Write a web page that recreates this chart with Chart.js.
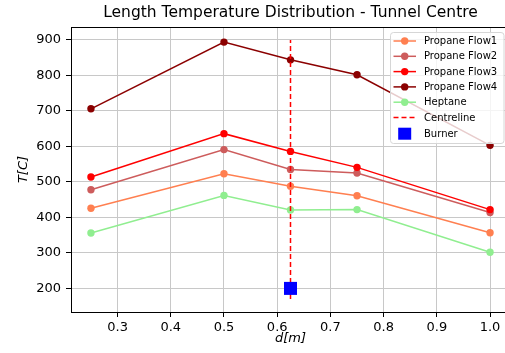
<!DOCTYPE html>
<html>
<head>
<meta charset="utf-8">
<script src="https://cdn.jsdelivr.net/npm/chart.js@4/dist/chart.umd.min.js"></script>
<style>
  html, body { margin: 0; padding: 0; background: #fff; overflow: hidden; }
  #wrap { width: 505px; height: 353px; overflow: hidden; position: relative; }
  canvas { display: block; }
</style>
</head>
<body>
<div id="wrap"><canvas id="c" width="510" height="353"></canvas></div>
<script>
// ---- data ----
const positions = [0.25, 0.5, 0.625, 0.75, 1.0];
const propaneFlow1 = [426, 523, 488, 461, 357];
const propaneFlow2 = [478, 591, 535, 525, 414];
const propaneFlow3 = [514, 636, 586, 541, 422];
const propaneFlow4 = [706, 894, 844, 802, 603];
const heptane = [356, 462, 421, 422, 302];
const centrelineX = [0.625, 0.625];
const centrelineY = [170, 900];
const burnerX = [0.625];
const burnerY = [200];
const xTicks = [0.3, 0.4, 0.5, 0.6, 0.7, 0.8, 0.9, 1.0];
const yTicks = [200, 300, 400, 500, 600, 700, 800, 900];

const FONT = "'DejaVu Sans', 'Liberation Sans', sans-serif";
Chart.defaults.font.family = FONT;
Chart.defaults.color = '#000';

const toPts = (xs, ys) => xs.map((x, i) => ({ x: x, y: ys[i] }));

const series = [
  { label: 'Propane Flow1', data: propaneFlow1, color: '#ff7f50' },
  { label: 'Propane Flow2', data: propaneFlow2, color: '#cd5c5c' },
  { label: 'Propane Flow3', data: propaneFlow3, color: '#ff0000' },
  { label: 'Propane Flow4', data: propaneFlow4, color: '#8b0000' },
  { label: 'Heptane', data: heptane, color: '#90ee90' }
];

const datasets = series.map((s) => ({
  label: s.label,
  data: toPts(positions, s.data),
  borderColor: s.color,
  backgroundColor: s.color,
  pointBackgroundColor: s.color,
  pointBorderColor: s.color,
  pointBorderWidth: 0,
  pointRadius: 3.7,
  pointHoverRadius: 3.7,
  borderWidth: 1.5,
  tension: 0,
  showLine: true,
  fill: false,
  legendKind: 'line'
}));

datasets.push({
  label: 'Centreline',
  data: toPts(centrelineX, centrelineY),
  borderColor: '#ff0000',
  backgroundColor: '#ff0000',
  borderDash: [5, 3],
  borderWidth: 1.5,
  pointRadius: 0,
  showLine: true,
  fill: false,
  legendKind: 'dash'
});

datasets.push({
  label: 'Burner',
  data: toPts(burnerX, burnerY),
  borderColor: '#0000ff',
  backgroundColor: '#0000ff',
  pointBackgroundColor: '#0000ff',
  pointBorderColor: '#0000ff',
  pointStyle: 'rect',
  pointRadius: 9.2,
  pointHoverRadius: 9.2,
  pointBorderWidth: 0,
  showLine: false,
  legendKind: 'square'
});

// later datasets drawn on top (matplotlib order)
datasets.forEach((d, i) => { d.order = datasets.length - i; });

const topSpine = {
  id: 'topSpine',
  afterDatasetsDraw(chart) {
    const { ctx, chartArea: a } = chart;
    ctx.save();
    ctx.strokeStyle = '#000';
    ctx.lineWidth = 1;
    ctx.beginPath();
    ctx.moveTo(a.left, a.top + 0.5);
    ctx.lineTo(a.right, a.top + 0.5);
    ctx.stroke();
    ctx.restore();
  }
};

const boxLegend = {
  id: 'boxLegend',
  afterDraw(chart) {
    const { ctx } = chart;
    const ds = chart.data.datasets;
    const left = 390.5, top = 32.5, right = 504, bottom = 143.5;
    ctx.save();
    const r = 3;
    ctx.beginPath();
    ctx.moveTo(left + r, top);
    ctx.lineTo(right - r, top);
    ctx.quadraticCurveTo(right, top, right, top + r);
    ctx.lineTo(right, bottom - r);
    ctx.quadraticCurveTo(right, bottom, right - r, bottom);
    ctx.lineTo(left + r, bottom);
    ctx.quadraticCurveTo(left, bottom, left, bottom - r);
    ctx.lineTo(left, top + r);
    ctx.quadraticCurveTo(left, top, left + r, top);
    ctx.closePath();
    ctx.fillStyle = 'rgba(255,255,255,0.8)';
    ctx.fill();
    ctx.strokeStyle = '#d6d6d6';
    ctx.lineWidth = 1;
    ctx.stroke();

    const x0 = 393.5, x1 = 416, xm = 404.7, tx = 424;
    ctx.font = '10px ' + FONT;
    ctx.textBaseline = 'middle';
    ctx.textAlign = 'left';
    ds.forEach((d, i) => {
      const y = i < 6 ? 41 + i * 15.3 : 133.7;
      if (d.legendKind === 'line' || d.legendKind === 'dash') {
        ctx.beginPath();
        ctx.setLineDash(d.legendKind === 'dash' ? [5, 3] : []);
        ctx.strokeStyle = d.borderColor;
        ctx.lineWidth = 1.5;
        ctx.moveTo(x0, y);
        ctx.lineTo(x1, y);
        ctx.stroke();
        ctx.setLineDash([]);
        if (d.legendKind === 'line') {
          ctx.beginPath();
          ctx.fillStyle = d.borderColor;
          ctx.arc(xm, y, 3.7, 0, Math.PI * 2);
          ctx.fill();
        }
      } else {
        ctx.fillStyle = d.backgroundColor;
        ctx.fillRect(xm - 6.5, y - 6, 13, 12);
      }
      ctx.fillStyle = '#000';
      ctx.fillText(d.label, tx, y + 0.5);
    });
    ctx.restore();
  }
};

new Chart(document.getElementById('c'), {
  type: 'line',
  data: { datasets: datasets },
  plugins: [topSpine, boxLegend],
  options: {
    responsive: false,
    animation: false,
    devicePixelRatio: 1,
    layout: { padding: 0, autoPadding: false },
    plugins: {
      legend: { display: false },
      tooltip: { enabled: false },
      title: {
        display: true,
        fullSize: false,
        text: 'Length Temperature Distribution - Tunnel Centre',
        color: '#000',
        font: { size: 15.5, weight: 'normal', family: FONT, lineHeight: 1.2 },
        padding: { top: 4, bottom: 4.4 }
      }
    },
    scales: {
      x: {
        type: 'linear',
        min: 0.2125,
        max: 1.0375,
        afterBuildTicks: (s) => { s.ticks = xTicks.map((v) => ({ value: v })); },
        afterFit: (s) => { s.height = 41; s.paddingLeft = 0; s.paddingRight = 0; },
        ticks: {
          color: '#000',
          font: { size: 13, family: FONT },
          padding: 3,
          maxRotation: 0,
          autoSkip: false,
          callback: (v) => Number(v).toFixed(1)
        },
        grid: {
          color: '#c8c8c8',
          lineWidth: 1,
          drawTicks: true,
          tickLength: 5,
          tickColor: '#000'
        },
        border: { display: true, color: '#000', width: 1 },
        title: {
          display: true,
          text: 'd[m]',
          color: '#000',
          font: { size: 13, style: 'italic', family: FONT },
          padding: { top: 0, bottom: 7 }
        }
      },
      y: {
        type: 'linear',
        min: 133.5,
        max: 936.5,
        afterBuildTicks: (s) => { s.ticks = yTicks.map((v) => ({ value: v })); },
        afterFit: (s) => { s.width = 71; s.paddingTop = 0; s.paddingBottom = 0; },
        ticks: {
          color: '#000',
          font: { size: 13, family: FONT },
          padding: 5,
          autoSkip: false,
          callback: (v) => String(v)
        },
        grid: {
          color: '#c8c8c8',
          lineWidth: 1,
          drawTicks: true,
          tickLength: 5,
          tickColor: '#000'
        },
        border: { display: true, color: '#000', width: 1 },
        title: {
          display: true,
          text: 'T[C]',
          color: '#000',
          font: { size: 13, style: 'italic', family: FONT },
          padding: { top: 16, bottom: 0 }
        }
      }
    }
  }
});
</script>
</body>
</html>
